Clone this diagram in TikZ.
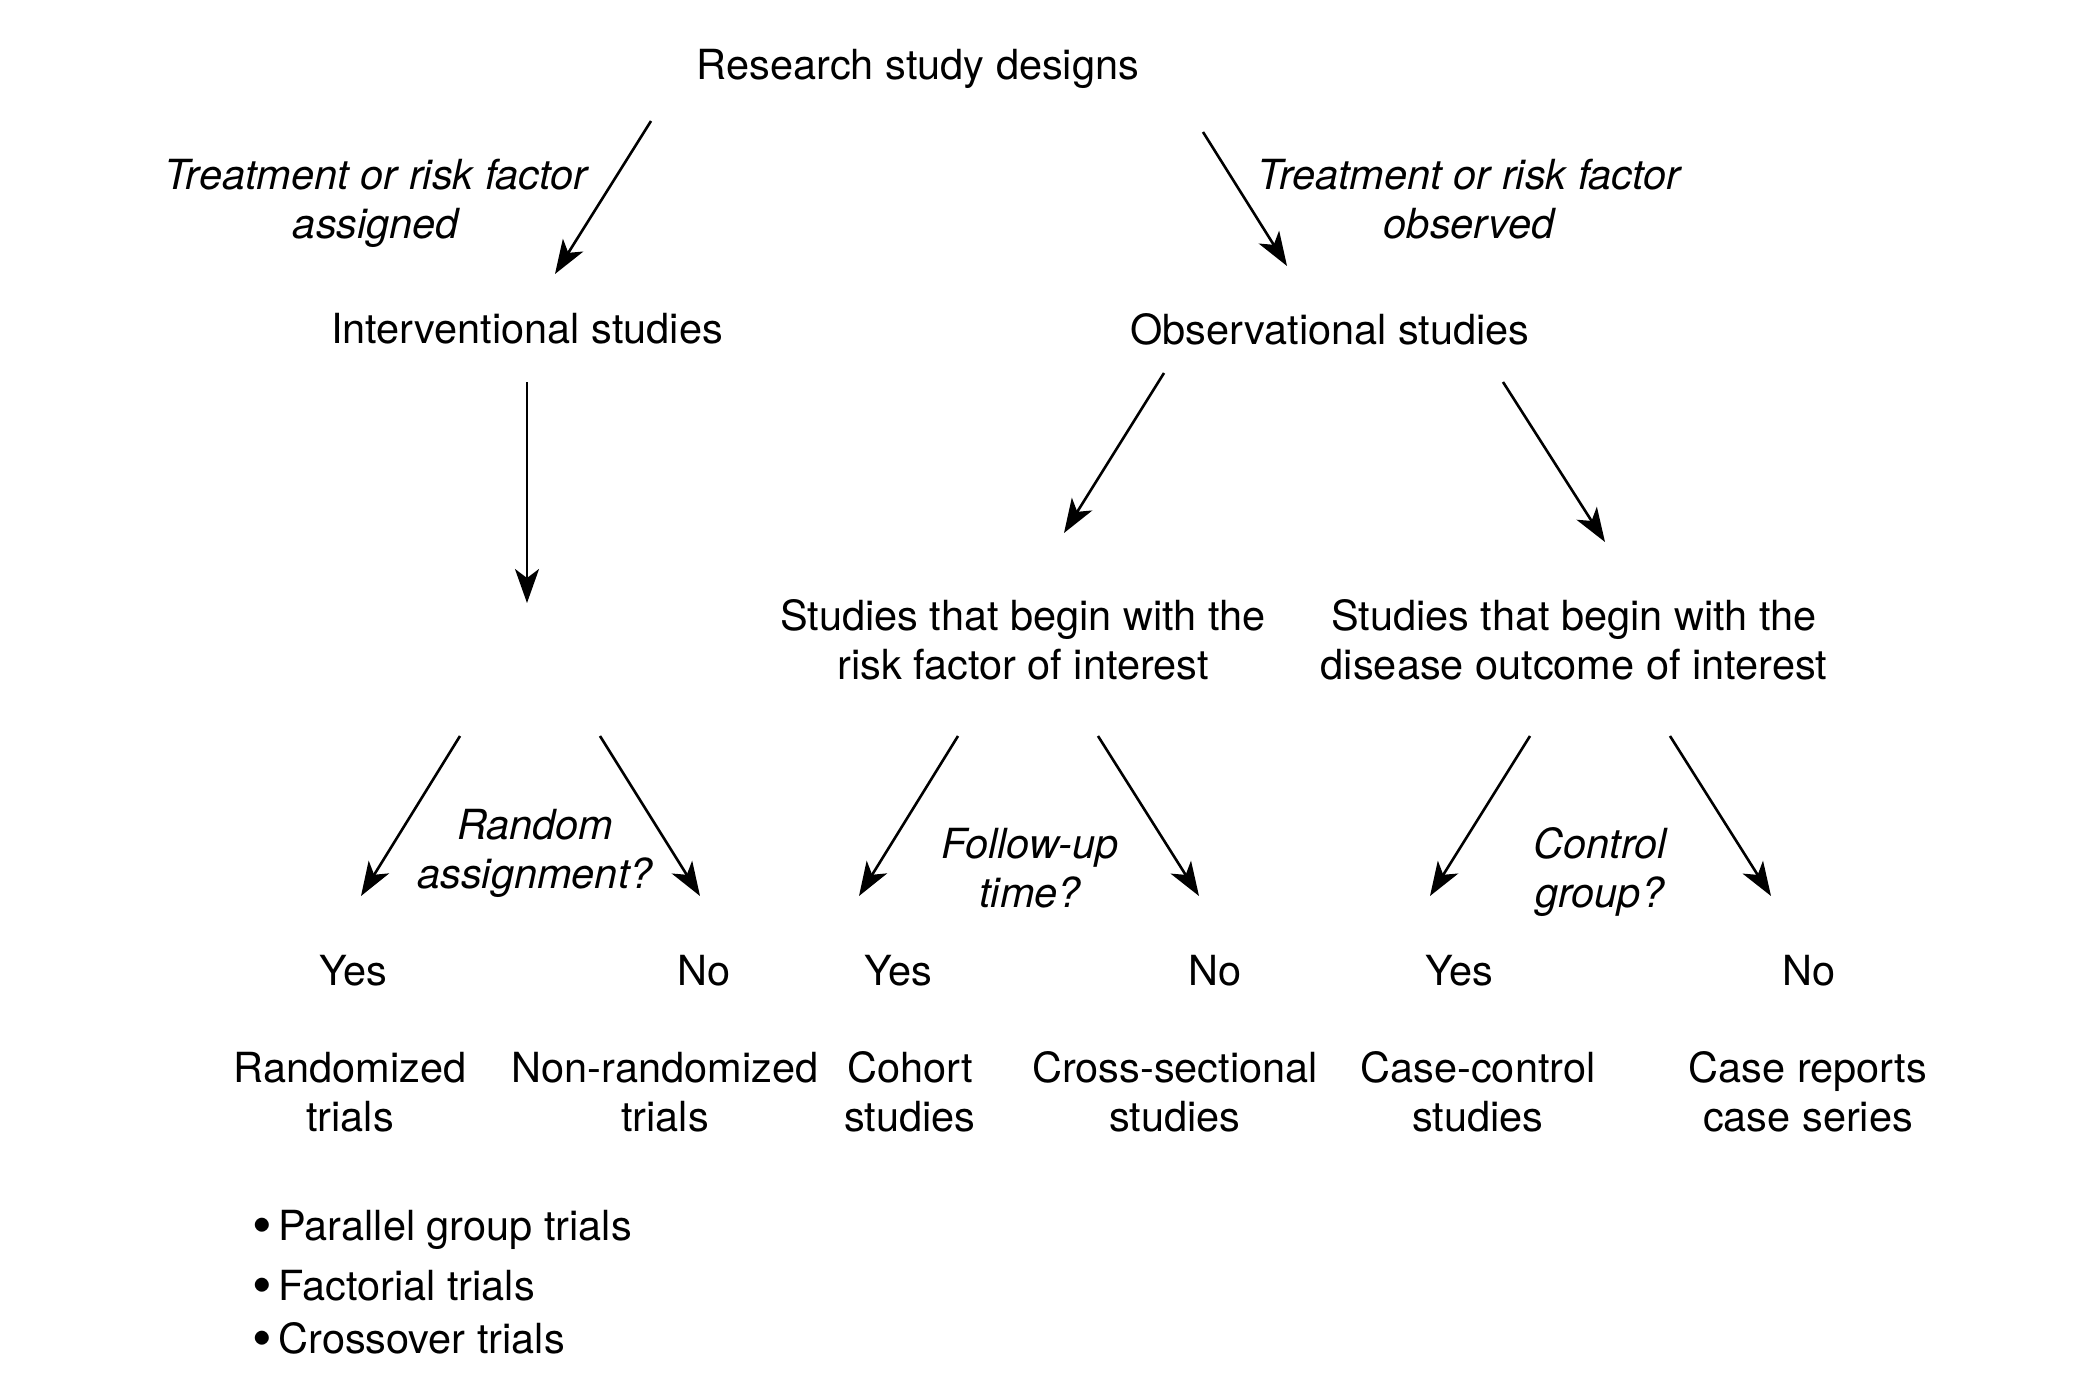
\documentclass[tikz,border=0pt]{standalone}
\usepackage{fontspec}
\setmainfont{TeX Gyre Heros}
\usetikzlibrary{arrows.meta}
\newcommand{\bigbul}{\raisebox{-0.1em}{\fontsize{56}{49}\selectfont\textbullet}\hspace{0.16em}}
\begin{document}
\begin{tikzpicture}[x=1pt,y=-1pt,
  lbl/.style={inner sep=0pt,align=center,font=\fontsize{41.5}{49}\selectfont},
  qlbl/.style={lbl,font=\fontsize{41.5}{49}\selectfont\itshape},
  blbl/.style={lbl,anchor=base west},
  arr/.style={line width=2.6pt,-{Stealth[length=34pt,width=24pt,inset=9pt]}}]
\path[use as bounding box,fill=white] (0,0) rectangle (2086,1387);
% texts
\node[lbl] (rsd) at (918,69) {Research study designs};
\node[qlbl] (tassign) at (376,203) {Treatment or risk factor\\assigned};
\node[qlbl] (tobs) at (1469,199) {Treatment or risk factor\\observed};
\node[lbl] (int) at (527,329) {Interventional studies};
\node[lbl] (obs) at (1330,329) {Observational studies};
\node[lbl] (risk) at (1023,640) {Studies that begin with the\\risk factor of interest};
\node[lbl] (dis) at (1574,640) {Studies that begin with the\\disease outcome of interest};
\node[qlbl] (rand) at (535,853) {Random\\assignment?};
\node[qlbl] (fup) at (1030,868) {Follow-up\\time?};
\node[qlbl] (ctrl) at (1600,872) {Control\\group?};
\node[lbl] (y1) at (353,971) {Yes};
\node[lbl] (n1) at (704,971) {No};
\node[lbl] (y2) at (898,971) {Yes};
\node[lbl] (n2) at (1215,971) {No};
\node[lbl] (y3) at (1459,971) {Yes};
\node[lbl] (n3) at (1809,971) {No};
\node[lbl] (rt) at (350,1092) {Randomized\\trials};
\node[lbl] (nrt) at (665,1092) {Non-randomized\\trials};
\node[lbl] (coh) at (910,1092) {Cohort\\studies};
\node[lbl] (cs) at (1175,1092) {Cross-sectional\\studies};
\node[lbl] (cc) at (1478,1092) {Case-control\\studies};
\node[lbl] (cr) at (1808,1092) {Case reports\\case series};
\node[blbl] (b1) at (252,1240) {\bigbul Parallel group trials};
\node[blbl] (b2) at (252,1300) {\bigbul Factorial trials};
\node[blbl] (b3) at (252,1353) {\bigbul Crossover trials};
% arrow endpoints
\coordinate (a1s) at (651,121); \coordinate (a1e) at (555,274);
\coordinate (a2s) at (1203,132); \coordinate (a2e) at (1287,266);
\coordinate (a3s) at (527,382); \coordinate (a3e) at (527,603);
\coordinate (a4s) at (1164,373); \coordinate (a4e) at (1064,533);
\coordinate (a5s) at (1503,382); \coordinate (a5e) at (1605,542);
\coordinate (a6s) at (460,736); \coordinate (a6e) at (361,896);
\coordinate (a7s) at (600,736); \coordinate (a7e) at (700,896);
\coordinate (a8s) at (958,736); \coordinate (a8e) at (859,896);
\coordinate (a9s) at (1098,736); \coordinate (a9e) at (1199,896);
\coordinate (a10s) at (1530,736); \coordinate (a10e) at (1430,896);
\coordinate (a11s) at (1670,736); \coordinate (a11e) at (1771,896);
\foreach \i in {1,...,11} {\draw[arr] (a\i s) -- (a\i e);}
\end{tikzpicture}
\end{document}
